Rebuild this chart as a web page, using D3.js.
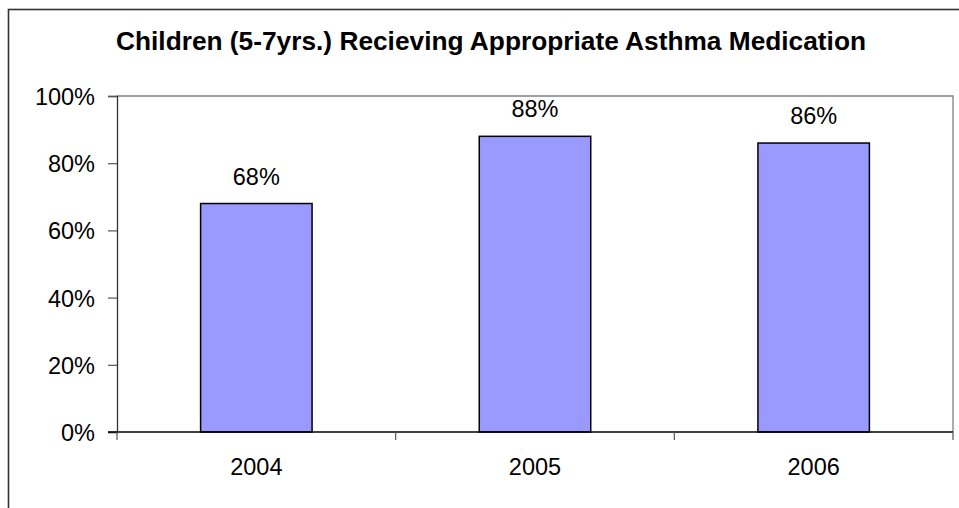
<!DOCTYPE html>
<html>
<head>
<meta charset="utf-8">
<script src="https://cdn.jsdelivr.net/npm/d3@7"></script>
<style>
  html, body { margin: 0; padding: 0; background: #fff; }
  svg { display: block; font-family: "Liberation Sans", Arial, sans-serif; }
</style>
</head>
<body>
<svg id="chart" width="959" height="508"></svg>
<script>
// Share of children aged 5-7 receiving appropriate asthma medication, by year
const years = ["2004", "2005", "2006"];
const percentReceiving = [68, 88, 86];
const yTickValues = [0, 20, 40, 60, 80, 100];
const titleText = "Children (5-7yrs.) Recieving Appropriate Asthma Medication";

const svg = d3.select("#chart");
const W = 959, H = 508;
const labelSize = 23.5;

// Outer chart frame (extends past the right and bottom edges)
svg.append("rect")
  .attr("x", 8.5).attr("y", 9.5)
  .attr("width", W + 10).attr("height", H + 10)
  .attr("fill", "#fff")
  .attr("stroke", "#333").attr("stroke-width", 1.6);

const plot = { left: 117, right: 953, top: 96, bottom: 432 };

const x = d3.scaleBand()
  .domain(years)
  .range([plot.left, plot.right])
  .paddingInner(0.6)
  .paddingOuter(0.3);

const xCat = d3.scaleBand()
  .domain(years)
  .range([plot.left, plot.right]);

const y = d3.scaleLinear()
  .domain([0, 100])
  .range([plot.bottom, plot.top]);

// Title
svg.append("text")
  .attr("x", 491).attr("y", 50)
  .attr("text-anchor", "middle")
  .attr("font-weight", "bold")
  .attr("font-size", 25)
  .attr("textLength", 750)
  .attr("lengthAdjust", "spacingAndGlyphs")
  .attr("fill", "#000")
  .text(titleText);

// Plot area outline (top and right edges)
svg.append("path")
  .attr("d", `M${plot.left},${plot.top}H${plot.right}V${plot.bottom}`)
  .attr("fill", "none")
  .attr("stroke", "#808080")
  .attr("stroke-width", 1.3);

// Bars
svg.append("g").selectAll("rect")
  .data(years.map((yr, i) => ({ yr, v: percentReceiving[i] })))
  .join("rect")
  .attr("x", d => x(d.yr))
  .attr("y", d => y(d.v))
  .attr("width", x.bandwidth())
  .attr("height", d => y(0) - y(d.v))
  .attr("fill", "#9999FF")
  .attr("stroke", "#000")
  .attr("stroke-width", 1.5);

// Value labels
svg.append("g").selectAll("text")
  .data(years.map((yr, i) => ({ yr, v: percentReceiving[i] })))
  .join("text")
  .attr("x", d => x(d.yr) + x.bandwidth() / 2)
  .attr("y", d => y(d.v) - 19)
  .attr("text-anchor", "middle")
  .attr("font-size", labelSize)
  .attr("fill", "#000")
  .text(d => d.v + "%");

// Y axis
const yAxis = svg.append("g")
  .attr("transform", `translate(${plot.left},0)`)
  .call(d3.axisLeft(y).tickValues(yTickValues).tickSize(9).tickPadding(13)
    .tickFormat(d => d + "%"));
yAxis.select(".domain").attr("stroke", "#333").attr("stroke-width", 1.3);
yAxis.selectAll(".tick line").attr("stroke", "#555").attr("stroke-width", 1.2);
yAxis.selectAll(".tick text")
  .attr("font-size", labelSize)
  .attr("font-family", "Liberation Sans, Arial, sans-serif")
  .attr("fill", "#000")
  .attr("dy", "0.36em");

// X axis with ticks at category boundaries
const xAxis = svg.append("g")
  .attr("transform", `translate(0,${plot.bottom})`);
xAxis.append("line")
  .attr("x1", plot.left - 9).attr("x2", plot.right)
  .attr("stroke", "#000").attr("stroke-width", 1.3);
const boundaries = years.map(yr => xCat(yr)).concat([xCat(years[years.length - 1]) + xCat.bandwidth()]);
xAxis.selectAll(".bound")
  .data(boundaries)
  .join("line")
  .attr("class", "bound")
  .attr("x1", d => d).attr("x2", d => d)
  .attr("y1", 0).attr("y2", 8)
  .attr("stroke", "#555").attr("stroke-width", 1.2);
xAxis.selectAll(".cat")
  .data(years)
  .join("text")
  .attr("class", "cat")
  .attr("x", d => xCat(d) + xCat.bandwidth() / 2)
  .attr("y", 43)
  .attr("text-anchor", "middle")
  .attr("font-size", labelSize)
  .attr("fill", "#000")
  .text(d => d);
</script>
</body>
</html>
